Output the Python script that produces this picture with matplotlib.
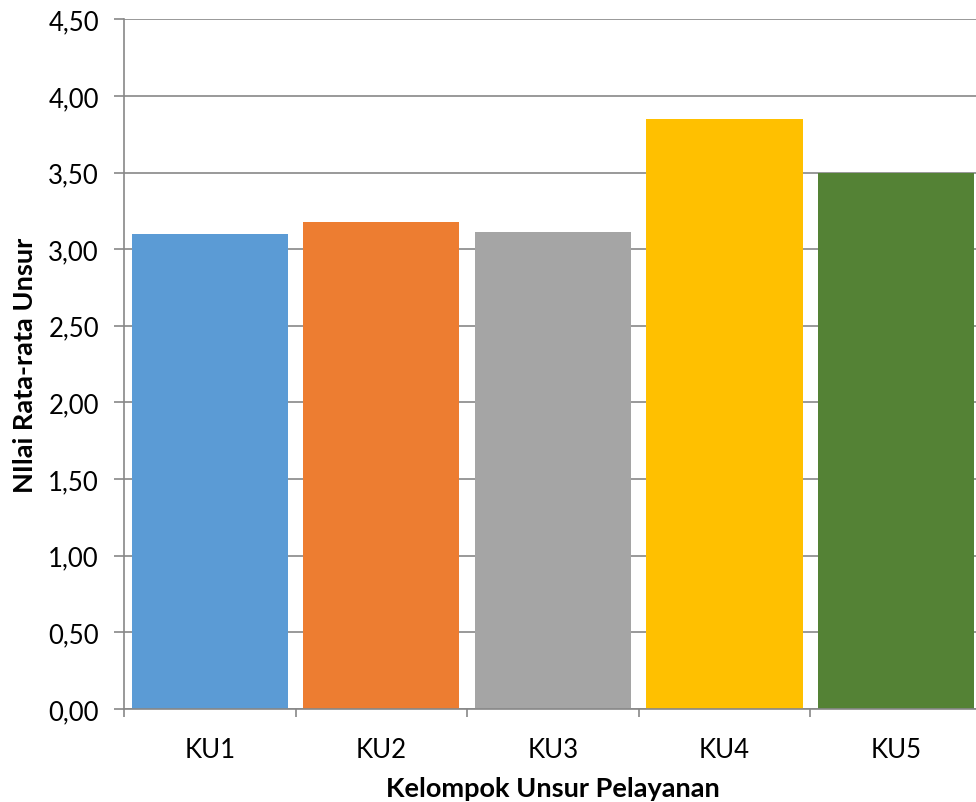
import matplotlib
matplotlib.use("Agg")
import matplotlib.pyplot as plt

categories = ["KU1", "KU2", "KU3", "KU4", "KU5"]
values = [3.10, 3.18, 3.11, 3.85, 3.50]
colors = ["#5B9BD5", "#ED7D31", "#A5A5A5", "#FFC000", "#548235"]
yticks = [0, 0.5, 1.0, 1.5, 2.0, 2.5, 3.0, 3.5, 4.0, 4.5]

plt.rcParams['font.family'] = ['Lato', 'DejaVu Sans']

fig = plt.figure(figsize=(9.76, 8.03), dpi=100)
ax = fig.add_axes([0.127, 0.1158, 0.879, 0.859])

x = list(range(len(categories)))
ax.bar(x, values, width=0.91, color=colors, zorder=2)

ax.set_xlim(-0.5, len(categories) - 0.5)
ax.set_ylim(0, 4.5)
ax.set_yticks(yticks)
ax.set_yticklabels([("%.2f" % v).replace(".", ",") for v in yticks], fontsize=18.5)
ax.yaxis.grid(True, color="#878787", linewidth=1.2, zorder=0)
ax.set_axisbelow(True)

ax.set_xticks(x)
ax.set_xticklabels(categories, fontsize=18.5)
ax.set_xticks([i - 0.5 for i in range(len(categories) + 1)], minor=True)
ax.tick_params(axis="x", which="major", length=0, pad=20)
ax.tick_params(axis="x", which="minor", length=6, width=1.2, color="#878787")
ax.tick_params(axis="y", length=7, width=1.2, color="#878787", pad=11)

for s in ["top", "right"]:
    ax.spines[s].set_visible(False)
for s in ["left", "bottom"]:
    ax.spines[s].set_color("#878787")
    ax.spines[s].set_linewidth(1.2)

ax.set_xlabel("Kelompok Unsur Pelayanan", fontsize=19.5, fontweight="bold", labelpad=10)
ax.set_ylabel("NIlai Rata-rata Unsur", fontsize=19.5, fontweight="bold", labelpad=8)

fig.savefig("out.png", dpi=100)
